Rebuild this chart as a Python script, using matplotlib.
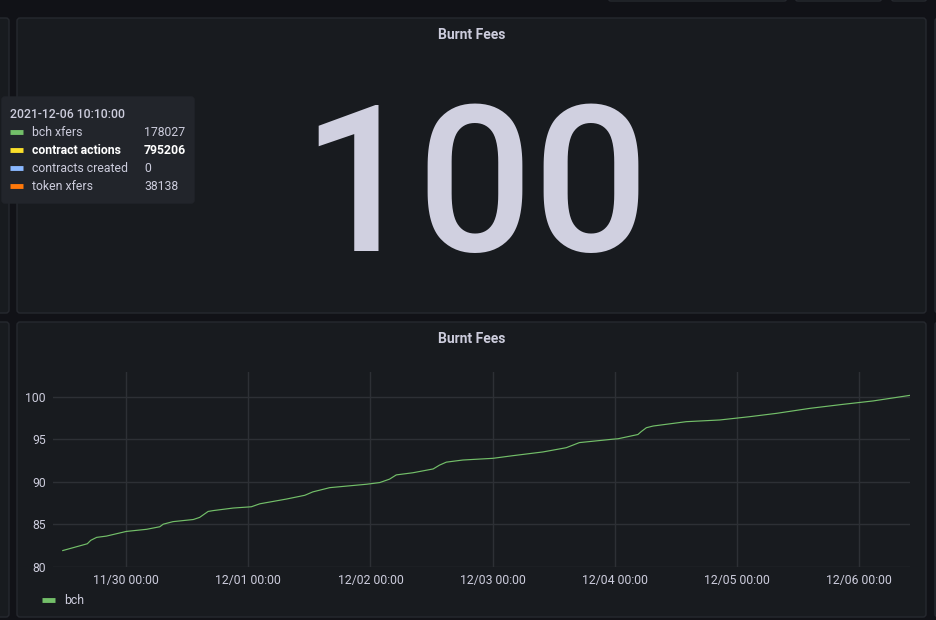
import matplotlib
matplotlib.use("Agg")
import matplotlib.pyplot as plt
import matplotlib.dates as mdates
from matplotlib.patches import FancyBboxPatch
import numpy as np

plt.rcParams['font.family'] = ['Roboto', 'DejaVu Sans']

# data
times = ["2021-11-29 11:30", "2021-11-29 16:20", "2021-11-29 17:00", "2021-11-29 18:10",
         "2021-11-29 20:05", "2021-11-30 00:00", "2021-11-30 04:00", "2021-11-30 06:35",
         "2021-11-30 07:15", "2021-11-30 09:10", "2021-11-30 13:10", "2021-11-30 14:25",
         "2021-11-30 16:05", "2021-11-30 17:05", "2021-11-30 21:00", "2021-12-01 00:35",
         "2021-12-01 02:15", "2021-12-01 07:30", "2021-12-01 11:05", "2021-12-01 12:40",
         "2021-12-01 16:00", "2021-12-01 23:15", "2021-12-02 01:50", "2021-12-02 03:45",
         "2021-12-02 05:05", "2021-12-02 08:20", "2021-12-02 12:20", "2021-12-02 13:35",
         "2021-12-02 14:55", "2021-12-02 18:10", "2021-12-03 00:05", "2021-12-03 04:00",
         "2021-12-03 09:55", "2021-12-03 14:30", "2021-12-03 17:05", "2021-12-03 23:40",
         "2021-12-04 00:40", "2021-12-04 04:35", "2021-12-04 05:15", "2021-12-04 06:15",
         "2021-12-04 07:35", "2021-12-04 14:05", "2021-12-04 20:40", "2021-12-05 02:35",
         "2021-12-05 07:50", "2021-12-05 14:25", "2021-12-05 20:55", "2021-12-06 02:50",
         "2021-12-06 10:00"]
bch_fees = [81.9, 82.7, 83.1, 83.45, 83.6, 84.15, 84.4, 84.7, 85.0, 85.3, 85.55, 85.8,
            86.5, 86.6, 86.9, 87.05, 87.4, 87.96, 88.4, 88.8, 89.3, 89.7, 89.9, 90.3,
            90.8, 91.05, 91.5, 91.95, 92.3, 92.55, 92.75, 93.06, 93.5, 94.0, 94.6, 95.0,
            95.05, 95.55, 95.9, 96.35, 96.55, 97.06, 97.26, 97.65, 98.04, 98.63, 99.1,
            99.5, 100.15]
stat_value = "100"
panel_title = "Burnt Fees"
y_ticks = [80, 85, 90, 95, 100]

tooltip_time = "2021-12-06 10:10:00"
tooltip_names = ["bch xfers", "contract actions", "contracts created", "token xfers"]
tooltip_values = ["178027", "795206", "0", "38138"]
tooltip_colors = ["#73bf69", "#fade2a", "#8ab8ff", "#ff780a"]
tooltip_bold = [False, True, False, False]

BG = "#111217"
PANEL = "#181b1f"
BORDER = "#26292f"
TEXT = "#ccccdc"
GRID = "#2d3035"

fig = plt.figure(figsize=(9.36, 6.2), dpi=100, facecolor=BG)

bg = fig.add_axes([0, 0, 1, 1])
bg.set_xlim(0, 936)
bg.set_ylim(620, 0)
bg.axis('off')

def panel(x0, y0, x1, y1, fc=PANEL, ec=BORDER):
    p = FancyBboxPatch((x0, y0), x1 - x0, y1 - y0, boxstyle="round,pad=0,rounding_size=3",
                       fc=fc, ec=ec, lw=1)
    bg.add_patch(p)

# panels
panel(-10, 18, 9, 313)
panel(-10, 322, 9, 617)
panel(17, 18, 926, 313)
panel(17, 322, 926, 617)
panel(935, 18, 950, 313)
panel(935, 322, 950, 617)
# top toolbar buttons (cut off)
panel(608, -10, 787, 1, fc=BG)
panel(795, -10, 882, 1, fc=BG)
panel(891, -10, 927, 1, fc=BG)

# titles
bg.text(472, 35, panel_title, color=TEXT, fontsize=10, fontweight='bold', ha='center', va='center')
bg.text(472, 339, panel_title, color=TEXT, fontsize=10, fontweight='bold', ha='center', va='center')

# big stat
bg.text(475, 251, stat_value, color="#d0d0e0", fontsize=147, fontweight='medium',
        ha='center', va='baseline')

# tooltip
tip = FancyBboxPatch((2, 97), 192, 106, boxstyle="round,pad=0,rounding_size=3",
                     fc="#22252b", ec="#22252b", lw=1, zorder=5)
bg.add_patch(tip)
bg.text(10, 114, tooltip_time, color=TEXT, fontsize=8.8, fontweight='medium', va='center', zorder=6)
for i, (nm, val, col, bold) in enumerate(zip(tooltip_names, tooltip_values, tooltip_colors, tooltip_bold)):
    yy = 132 + i * 18
    bg.plot([10, 23], [yy, yy], color=col, lw=3.5, solid_capstyle='butt', zorder=6)
    c = "#ffffff" if bold else TEXT
    w = 'bold' if bold else 'normal'
    bg.text(32, yy, nm, color=c, fontsize=8.8, fontweight=w, va='center', zorder=6)
    bg.text(144, yy, val, color=c, fontsize=8.8, fontweight=w, va='center', zorder=6)

# time series
ax = fig.add_axes([53 / 936, 1 - 566.7 / 620, 857 / 936, 195 / 620])
ax.set_facecolor('none')
t = np.array(times, dtype='datetime64[m]')
ax.plot(t, bch_fees, color="#73bf69", lw=0.85)
ax.set_xlim(np.datetime64("2021-11-29 09:35"), np.datetime64("2021-12-06 10:05"))
ax.set_ylim(80, 102.94)
ax.set_yticks(y_ticks)
ax.xaxis.set_major_locator(mdates.DayLocator())
ax.xaxis.set_major_formatter(mdates.DateFormatter("%m/%d %H:%M"))
for s in ax.spines.values():
    s.set_visible(False)
ax.tick_params(length=0, colors=TEXT, labelsize=8.8)
ax.tick_params(axis='y', pad=5)
ax.tick_params(axis='x', pad=5)
ax.grid(True, color=GRID, lw=1)
ax.set_axisbelow(True)

# legend
bg.plot([42, 55], [600, 600], color="#73bf69", lw=3.5, solid_capstyle='butt')
bg.text(64, 600, "bch", color=TEXT, fontsize=8.8, va='center')

fig.savefig("out.png", dpi=100, facecolor=BG)
